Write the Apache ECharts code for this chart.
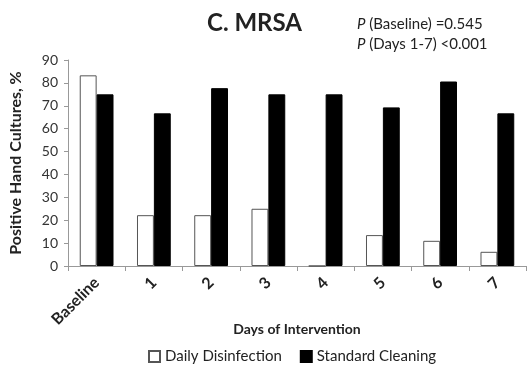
<!DOCTYPE html>
<html><head><meta charset="utf-8">
<script src="https://cdn.jsdelivr.net/npm/echarts@6/dist/echarts.min.js"></script>
<style>html,body{margin:0;padding:0;background:#fff}#c{width:527px;height:365px}</style>
</head><body><div id="c"></div>
<script>
const categories = ['Baseline','1','2','3','4','5','6','7'];
const dailyDisinfection = [83.3, 22.2, 22.2, 25.0, 0, 13.5, 11.0, 6.2];
const standardCleaning = [75.0, 66.7, 77.7, 75.0, 75.0, 69.3, 80.6, 66.7];
const yTicks = {min: 0, max: 90, interval: 10};
const F = 'Lato, "Open Sans", sans-serif';
const chart = echarts.init(document.getElementById('c'));
const pRich = {i: {fontStyle: 'italic', fontFamily: F, fontSize: 15, fill: '#222'}, n: {fontFamily: F, fontSize: 15, fill: '#222'}};
chart.setOption({
  animation: false,
  backgroundColor: '#fff',
  textStyle: {fontFamily: F},
  title: {text: 'C. MRSA', left: 202, top: 6, textStyle: {fontFamily: F, fontSize: 24, fontWeight: 'bold', color: '#222'}},
  graphic: [
    {type: 'text', left: 357, top: 17, style: {rich: pRich, text: '{i|P}{n| (Baseline) =0.545}'}},
    {type: 'text', left: 357, top: 37, style: {rich: pRich, text: '{i|P}{n| (Days 1-7) <0.001}'}}
  ],
  legend: {
    bottom: 1, left: 148, padding: 0, itemWidth: 11, itemHeight: 11, itemGap: 18, icon: 'rect',
    textStyle: {fontFamily: F, fontSize: 15, color: '#222'},
    data: ['Daily Disinfection', 'Standard Cleaning']
  },
  grid: {left: 66, right: 1, top: 60, bottom: 99},
  xAxis: {
    type: 'category', data: categories,
    name: 'Days of Intervention', nameLocation: 'middle', nameGap: 56, nameMoveOverlap: false,
    nameTextStyle: {fontFamily: F, fontSize: 14, fontWeight: 'bold', color: '#222'},
    axisLine: {lineStyle: {color: '#999'}},
    axisTick: {show: true, length: 5, lineStyle: {color: '#999'}},
    axisLabel: {rotate: 45, fontFamily: F, fontSize: 16, fontWeight: 'bold', color: '#222', margin: 14}
  },
  yAxis: {
    type: 'value', min: yTicks.min, max: yTicks.max, interval: yTicks.interval,
    name: 'Positive Hand Cultures, %', nameLocation: 'middle', nameGap: 44, nameRotate: 90,
    nameTextStyle: {fontFamily: F, fontSize: 16, fontWeight: 'bold', color: '#222'},
    axisLine: {show: true, lineStyle: {color: '#999'}},
    axisTick: {show: true, length: 4, lineStyle: {color: '#999'}},
    splitLine: {show: false},
    axisLabel: {fontFamily: F, fontSize: 14, color: '#333', margin: 10}
  },
  series: [
    {name: 'Daily Disinfection', type: 'bar', data: dailyDisinfection, barGap: '0%', barCategoryGap: '41%',
     itemStyle: {color: '#fff', borderColor: '#555', borderWidth: 1}},
    {name: 'Standard Cleaning', type: 'bar', data: standardCleaning,
     itemStyle: {color: '#000', borderColor: '#000', borderWidth: 1}}
  ]
});
</script></body></html>
